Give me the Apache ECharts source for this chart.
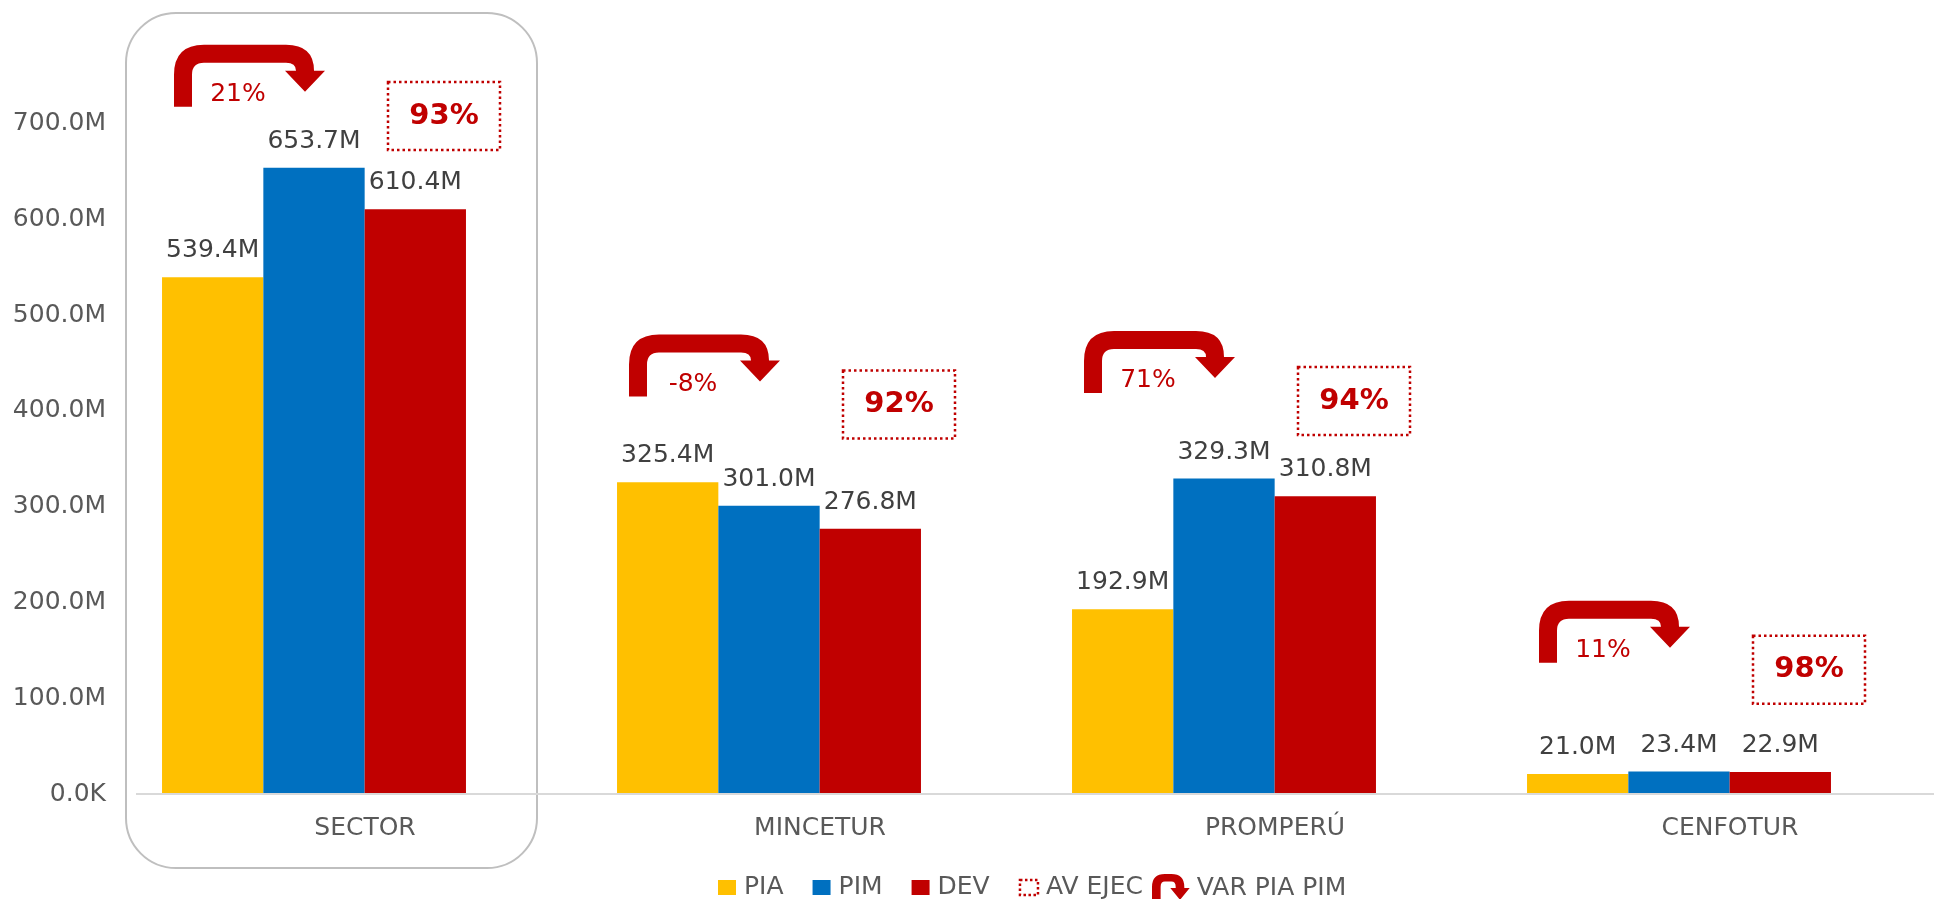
<!DOCTYPE html>
<html><head><meta charset="utf-8">
<script src="https://cdn.jsdelivr.net/npm/echarts@6/dist/echarts.min.js"></script>
<style>html,body{margin:0;padding:0;background:#fff}#c{width:1934px;height:899px}</style>
</head><body><div id="c"></div>
<script>
// ---- data (amounts in millions) ----
const categories = ['SECTOR', 'MINCETUR', 'PROMPERÚ', 'CENFOTUR'];
const pia = [539.4, 325.4, 192.9, 21.0];
const pim = [653.7, 301.0, 329.3, 23.4];
const dev = [610.4, 276.8, 310.8, 22.9];
const avEjec = [93, 92, 94, 98];      // % avance de ejecución
const varPiaPim = [21, -8, 71, 11];   // % variación PIA -> PIM
const yMin = 0, yMax = 700, yStep = 100;

const FONT = '"DejaVu Sans"';
const RED = '#c00000';

function arrowPath(x, y) {
  const P = (dx, dy) => (x + dx) + ' ' + (y + dy);
  return 'M' + P(0, 62) + ' L' + P(0, 30) + ' Q' + P(0, 0) + ' ' + P(30, 0) +
    ' L' + P(112, 0) + ' Q' + P(140, 0) + ' ' + P(140, 26) +
    ' L' + P(151, 26) + ' L' + P(131, 47) + ' L' + P(111, 26) + ' L' + P(122, 26) +
    ' Q' + P(122, 18) + ' ' + P(112, 18) + ' L' + P(30, 18) +
    ' Q' + P(18, 18) + ' ' + P(18, 30) + ' L' + P(18, 62) + ' Z';
}
const legendArrow = 'path://M0 26 L0 12 Q0 0 12 0 L18 0 Q30 0 30 12 L30 13 L35 13 L26 24 L17 13 L22 13 L22 12 Q22 7 18 7 L12 7 Q8 7 8 12 L8 26 Z';

const maxOf = categories.map((c, i) => Math.max(pia[i], pim[i], dev[i]));
const varData = categories.map((c, i) => [i, maxOf[i], varPiaPim[i]]);
const avData = categories.map((c, i) => [i, maxOf[i], avEjec[i]]);

const fmtM = v => v === 0 ? '0.0K' : v.toFixed(1) + 'M';
const barLabel = {
  show: true, position: 'top', distance: 14,
  fontFamily: FONT, fontSize: 25, color: '#404040',
  formatter: p => fmtM(p.value)
};

const chart = echarts.init(document.getElementById('c'), null, {renderer: 'canvas'});
const option = {
  animation: false,
  backgroundColor: '#fff',
  grid: {left: 86.5, right: 27.5, top: 123.5, bottom: 105, containLabel: false},
  xAxis: {
    type: 'category', data: categories,
    axisLine: {show: false}, axisTick: {show: false},
    axisLabel: {fontFamily: FONT, fontSize: 25, color: '#595959', margin: 22, padding: [0, 0, 0, 102]}
  },
  yAxis: {
    type: 'value', min: yMin, max: yMax, interval: yStep,
    splitLine: {show: false}, axisLine: {show: false}, axisTick: {show: false},
    axisLabel: {fontFamily: FONT, fontSize: 25, color: '#595959', margin: -19.5, formatter: fmtM}
  },
  legend: [{
    left: 718, top: 875, padding: 0, itemWidth: 18, itemHeight: 15, itemGap: 29,
    textStyle: {fontFamily: FONT, fontSize: 25, color: '#595959', padding: [0, 0, 0, 3]},
    data: [
      {name: 'PIA', icon: 'rect'},
      {name: 'PIM', icon: 'rect'},
      {name: 'DEV', icon: 'rect'},
      {name: 'AV EJEC', icon: 'rect', itemStyle: {color: 'rgba(255,255,255,0)', borderColor: RED, borderWidth: 2.5, borderType: [2.5, 2.5]}}
    ]
  }, {
    left: 1152, top: 874, padding: 0, itemWidth: 38, itemHeight: 28,
    textStyle: {fontFamily: FONT, fontSize: 25, color: '#595959', padding: [0, 0, 0, 2]},
    data: [{name: 'VAR PIA PIM', icon: legendArrow, itemStyle: {color: RED}}]
  }],
  series: [
    {name: 'PIA', type: 'bar', data: pia, itemStyle: {color: '#ffc000'}, barGap: '0%', barCategoryGap: '33.2%', label: barLabel},
    {name: 'PIM', type: 'bar', data: pim, itemStyle: {color: '#0070c0'}, label: barLabel},
    {name: 'DEV', type: 'bar', data: dev, itemStyle: {color: RED}, label: barLabel},
    {
      name: 'VAR PIA PIM', type: 'custom', data: varData, itemStyle: {color: RED}, clip: false,
      encode: {x: 0, y: 1},
      renderItem: (params, api) => {
        const y0 = api.coord([0, 0])[1];
        const p = api.coord([api.value(0), api.value(1)]);
        const h = y0 - p[1];
        // annotation placement above the tallest bar of the group
        const bottom = y0 - 0.921 * h - 110.5;
        const x = p[0] - 140, y = bottom - 62;
        return {type: 'group', children: [
          {type: 'path', shape: {pathData: arrowPath(x, y)}, style: {fill: RED}},
          {type: 'text', x: x + 64, y: bottom - 12,
            style: {text: api.value(2) + '%', fill: RED, fontFamily: FONT, fontSize: 25, align: 'center', verticalAlign: 'middle'}}
        ]};
      }
    },
    {
      name: 'AV EJEC', type: 'custom', data: avData, itemStyle: {color: RED}, clip: false,
      encode: {x: 0, y: 1},
      renderItem: (params, api) => {
        const y0 = api.coord([0, 0])[1];
        const p = api.coord([api.value(0), api.value(1)]);
        const h = y0 - p[1];
        const cx = p[0] + 130, cy = y0 - 0.917 * h - 103.7;
        return {type: 'group', children: [
          {type: 'rect', shape: {x: cx - 56, y: cy - 34, width: 112, height: 68},
            style: {fill: 'none', stroke: RED, lineWidth: 2.5, lineDash: [2.5, 3]}},
          {type: 'text', x: cx, y: cy,
            style: {text: api.value(2) + '%', fill: RED, fontFamily: FONT, fontSize: 29, fontWeight: 'bold', align: 'center', verticalAlign: 'middle'}}
        ]};
      }
    }
  ]
};
chart.setOption(option);

const cx0 = chart.convertToPixel({xAxisIndex: 0}, categories[0]);
const y0 = chart.convertToPixel({yAxisIndex: 0}, 0);
chart.setOption({
  graphic: [
    {type: 'rect', z: -10, shape: {x: cx0 - 188, y: 13, width: 411, height: 855, r: 50},
      style: {fill: 'none', stroke: '#bfbfbf', lineWidth: 2}},
    {type: 'line', z: 10, shape: {x1: 136, y1: y0, x2: 1934, y2: y0},
      style: {stroke: '#d9d9d9', lineWidth: 2}}
  ]
});
</script>
</body></html>
